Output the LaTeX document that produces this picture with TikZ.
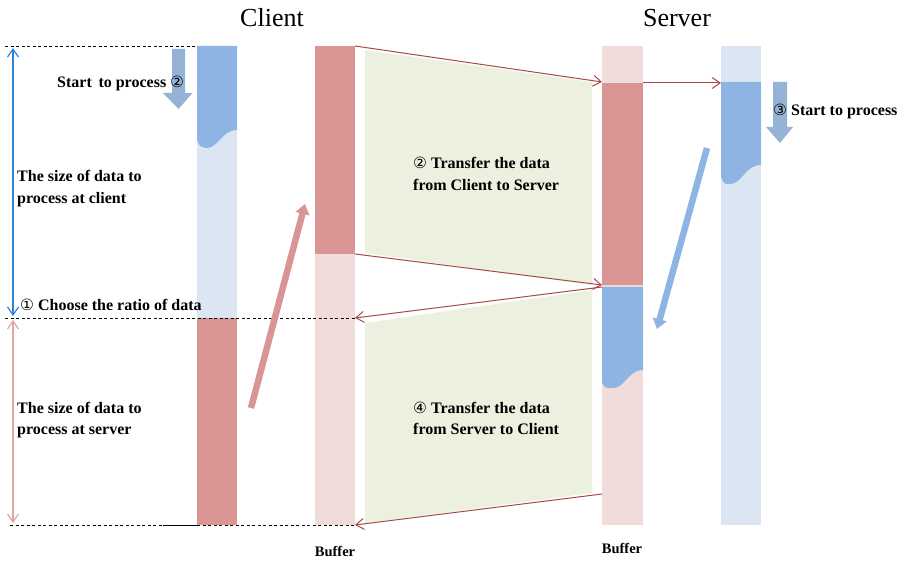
\documentclass[tikz,border=0pt]{standalone}
\usepackage{fontspec}
\setmainfont{Liberation Serif}
\newfontfamily\circfont{DejaVu Sans}
\usetikzlibrary{arrows.meta}
\definecolor{dblue}{HTML}{8EB4E3}
\definecolor{lblue}{HTML}{DCE6F2}
\definecolor{dred}{HTML}{D99594}
\definecolor{lpink}{HTML}{F2DCDB}
\definecolor{lgreen}{HTML}{EBF1DE}
\definecolor{arrred}{HTML}{A84848}
\definecolor{blockblue}{HTML}{95B3D7}
\definecolor{dimblue}{HTML}{2F86D6}
\definecolor{dimpink}{HTML}{E6A3A3}
\newcommand{\cnum}[1]{{\circfont\mdseries\fontsize{15.5}{15.5}\selectfont #1}}
\tikzset{
  lbl/.style={inner sep=0pt, font=\fontsize{16}{21.5}\selectfont\bfseries},
  title/.style={inner sep=0pt, font=\fontsize{26}{30}\selectfont},
  bufl/.style={inner sep=0pt, font=\fontsize{14.5}{17}\selectfont\bfseries},
  xfer/.style={draw=arrred, line width=1pt, -{Straight Barb[length=8pt,width=11pt]}},
  guide/.style={draw=black, line width=0.8pt, dash pattern=on 3pt off 2.5pt},
  dim/.style={line width=1.2pt, {Straight Barb[length=8pt,width=11pt]}-{Straight Barb[length=8pt,width=11pt]}},
  bigarrow/.style={line width=6.5pt},
}
\begin{document}
\begin{tikzpicture}[x=1pt,y=-1pt]
\useasboundingbox (0,0) rectangle (910,561);

% named points
\coordinate (cb1) at (355,46);
\coordinate (sb1) at (602,82);
\coordinate (cb2) at (355,254);
\coordinate (sb2) at (602,285);
\coordinate (sb3) at (602,287);
\coordinate (cb3) at (355,318);
\coordinate (sb4) at (602,494);
\coordinate (cb4) at (355,525);
\coordinate (sbr) at (643,83);
\coordinate (scl) at (721,83);

% green transfer bands
\fill[lgreen] (365,50) -- (592,82) -- (592,285) -- (365,253) -- cycle;
\fill[lgreen] (365,323) -- (592,290) -- (592,493) -- (365,523) -- cycle;

% client column
\fill[lblue] (197,46) rectangle (237,318);
\fill[dblue] (197,46) -- (237,46) -- (237,130) .. controls (222,130) and (218,148) .. (207,148) .. controls (200,147) .. (197,140) -- cycle;
\fill[dred] (197,318) rectangle (237,525);

% client buffer
\fill[dred] (315,46) rectangle (355,254);
\fill[lpink] (315,254) rectangle (355,525);

% server buffer
\fill[lpink] (602,46) rectangle (643,525);
\fill[dred] (602,83) rectangle (643,285);
\fill[dblue] (602,287) -- (643,287) -- (643,370) .. controls (628,370) and (625,388) .. (613,388) .. controls (605,388) .. (602,383) -- cycle;

% server column
\fill[lblue] (721,46) rectangle (761,525);
\fill[dblue] (721,82) -- (761,82) -- (761,165) .. controls (745,165) and (742,184) .. (730,184) .. controls (724,184) .. (721,177) -- cycle;

% guide lines
\draw[guide] (5,46) -- (197,46);
\draw[guide] (5,318) -- (cb3);
\draw[guide] (10,525) -- (cb4);
\draw[line width=1pt] (163,525) -- (198,525);

% dimension arrows
\draw[dim, dimblue] (13,48) -- (13,316);
\draw[dim, dimpink] (13,320) -- (13,523);

% transfer arrows
\draw[xfer] (cb1) -- (sb1);
\draw[xfer] (cb2) -- (sb2);
\draw[xfer] (sb3) -- (cb3);
\draw[xfer] (sb4) -- (cb4);
\draw[xfer] (sbr) -- (scl);

% big slanted arrows
\draw[bigarrow, dred, -{Triangle[length=10pt,width=14pt]}] (251,408) -- (305,204);
\draw[bigarrow, dblue, -{Triangle[length=10pt,width=14pt]}] (707,148) -- (657,329);

% block down arrows
\fill[blockblue] (172,49) -- (185,49) -- (185,93) -- (192.5,93) -- (178.5,109) -- (163,93) -- (172,93) -- cycle;
\fill[blockblue] (773,82) -- (787,82) -- (787,127) -- (793,127) -- (780,143) -- (766,127) -- (773,127) -- cycle;

% titles
\node[title, anchor=base] (tclient) at (272,27) {Client};
\node[title, anchor=base] (tserver) at (677,27) {Server};

% labels
\node[lbl, anchor=base west] (start2) at (57,88) {Start\, to process \cnum{②}};
\node[lbl, anchor=base west] (sizec) at (17,182) {\begin{tabular}[t]{@{}l@{}}The size of data to\\process at client\end{tabular}};
\node[lbl, anchor=base west] (choose) at (20,311) {\cnum{①} Choose the ratio of data};
\node[lbl, anchor=base west] (sizes) at (17,413) {\begin{tabular}[t]{@{}l@{}}The size of data to\\process at server\end{tabular}};
\node[lbl, anchor=base west] (xfer1) at (413,169) {\begin{tabular}[t]{@{}l@{}}\cnum{②} Transfer the data\\from Client to Server\end{tabular}};
\node[lbl, anchor=base west] (xfer2) at (413,413) {\begin{tabular}[t]{@{}l@{}}\cnum{④} Transfer the data\\from Server to Client\end{tabular}};
\node[lbl, anchor=base west] (start3) at (773,116) {\cnum{③} Start to process};
\node[bufl, anchor=base] (buf1) at (335,556) {Buffer};
\node[bufl, anchor=base] (buf2) at (622,553) {Buffer};
\end{tikzpicture}
\end{document}
